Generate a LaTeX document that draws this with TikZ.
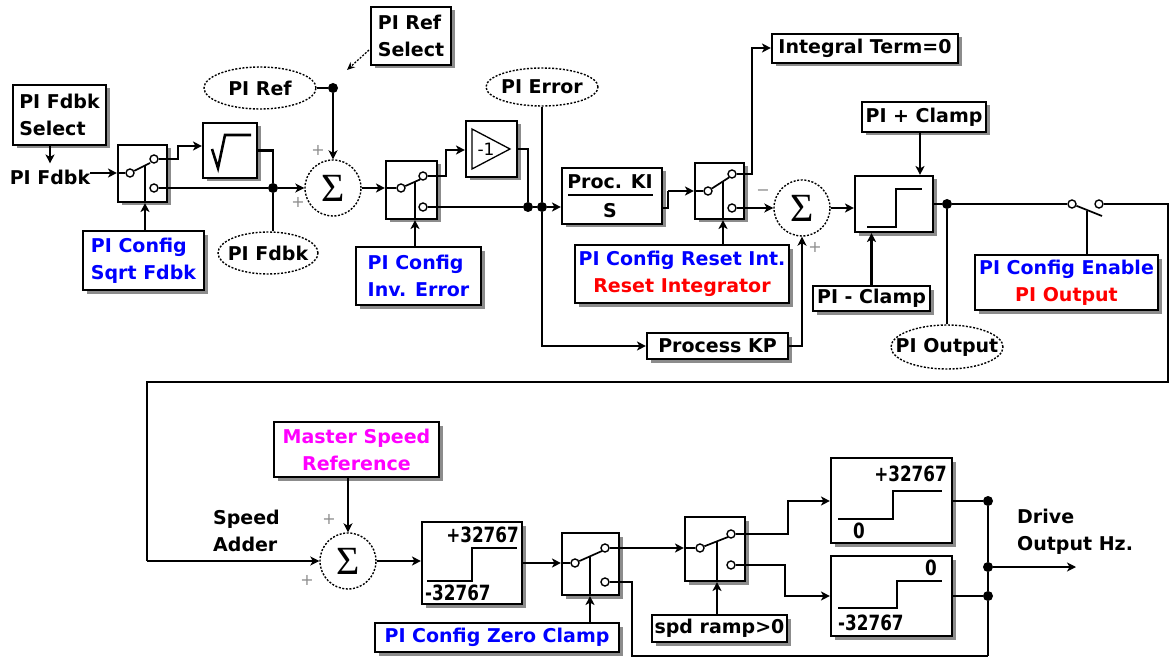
\documentclass[tikz,border=0pt]{standalone}
\usepackage{fontspec}
\setmainfont{DejaVu Sans}
\newfontfamily\sigmafont{Liberation Serif}
\usepackage{graphicx}
\usetikzlibrary{shadows,arrows.meta,shapes.geometric}
\definecolor{pblue}{RGB}{0,0,255}
\definecolor{pred}{RGB}{255,0,0}
\definecolor{pmag}{RGB}{255,0,255}
\tikzset{
  ln/.style={line width=2.1pt},
  arr/.style={line width=2.1pt,-{Stealth[length=9pt,width=9pt,inset=2.5pt]}},
  txt/.style={font=\fontsize{19}{27}\selectfont\bfseries,inner sep=0pt},
  corners/.style n args={4}{at={({(#1+#3)/2},{(#2+#4)/2})},minimum width={#3-#1},minimum height={#4-#2}},
  shbox/.style={draw,fill=white,line width=2.1pt,inner sep=0pt,
    drop shadow={shadow xshift=3.5pt,shadow yshift=-3.5pt,fill=black!45,opacity=1},
    font=\fontsize{19}{27}\selectfont\bfseries},
  oval/.style={draw,ellipse,dash pattern=on 2pt off 1.6pt,line width=1.4pt,fill=white,inner sep=0pt},
  sumc/.style={draw,circle,dash pattern=on 2pt off 1.6pt,line width=1.4pt,fill=white,inner sep=0pt,
    minimum size=56pt,font=\sigmafont\fontsize{40}{40}\selectfont},
  contact/.style={draw,circle,fill=white,line width=1.4pt,minimum size=8pt,inner sep=0pt},
  dot/.style={circle,fill=black,minimum size=10pt,inner sep=0pt},
  sign/.style={text=black!45,font=\fontsize{16}{16}\selectfont,inner sep=0pt},
  num/.style={font=\fontsize{21}{21}\selectfont\bfseries,inner sep=0pt},
  blade/.style={line width=1.7pt},
}
\begin{document}
\begin{tikzpicture}[x=1pt,y=-1pt]
\useasboundingbox (0,0) rectangle (1171,658);

% ---------------- boxes
\node[shbox,corners={13}{85}{106}{145},align=left] (fdbksel) {PI Fdbk\\Select};
\node[shbox,corners={371}{7}{451}{65},align=left] (refsel) {PI Ref\\Select};
\node[shbox,corners={118}{145}{167}{202}] (sw1) {};
\node[shbox,corners={203}{123}{257}{178}] (sqrt) {};
\node[shbox,corners={83}{231}{204}{290},align=left,text=pblue] (cfg1) {PI Config\\Sqrt Fdbk};
\node[shbox,corners={386}{161}{437}{219}] (sw2) {};
\node[shbox,corners={466}{121}{517}{177}] (neg) {};
\node[shbox,corners={356}{247}{481}{305},align=left,text=pblue] (cfg2) {PI Config\\Inv. Error};
\node[shbox,corners={562}{168}{662}{224}] (ki) {};
\node[shbox,corners={695}{163}{744}{219}] (sw3) {};
\node[shbox,corners={772}{34}{958}{63}] (intg) {Integral Term=0};
\node[shbox,corners={575}{245}{789}{303},align=center] (cfg3) {\textcolor{pblue}{PI Config Reset Int.}\\\textcolor{pred}{Reset Integrator}};
\node[shbox,corners={647}{333}{788}{359}] (kp) {Process KP};
\node[shbox,corners={855}{176}{933}{232}] (clamp) {};
\node[shbox,corners={862}{102}{986}{132}] (pclamp) {PI + Clamp};
\node[shbox,corners={813}{286}{930}{311}] (mclamp) {PI - Clamp};
\node[shbox,corners={975}{255}{1158}{310},align=center] (cfg4) {\textcolor{pblue}{PI Config Enable}\\\textcolor{pred}{PI Output}};
\node[shbox,corners={274}{422}{439}{477},align=center,text=pmag] (msr) {Master Speed\\Reference};
\node[shbox,corners={422}{522}{522}{604}] (lim1) {};
\node[shbox,corners={562}{533}{619}{595}] (sw4) {};
\node[shbox,corners={375}{623}{619}{652},text=pblue] (cfg5) {PI Config Zero Clamp};
\node[shbox,corners={685}{517}{745}{581}] (sw5) {};
\node[shbox,corners={652}{615}{787}{642}] (spd) {spd ramp>0};
\node[shbox,corners={831}{458}{952}{543}] (lim2) {};
\node[shbox,corners={831}{556}{952}{636}] (lim3) {};

% ---------------- ovals and sums
\node[oval,minimum width=112pt,minimum height=42pt,label={[txt]center:PI Ref}] (pref) at (260,88) {};
\node[oval,minimum width=100pt,minimum height=42pt,label={[txt]center:PI Fdbk}] (pfdbk) at (268,253) {};
\node[oval,minimum width=112pt,minimum height=38pt,label={[txt]center:PI Error}] (perr) at (542,87) {};
\node[oval,minimum width=112pt,minimum height=44pt,label={[txt]center:PI Output}] (pout) at (947,347) {};
\node[sumc] (sum1) at (333,188) {Σ};
\node[sumc] (sum2) at (802,208) {Σ};
\node[sumc] (sum3) at (348,561) {Σ};

% ---------------- free texts
\node[txt] (fdbktxt) at (50,177) {PI Fdbk};
\node[txt,anchor=west,align=left] (spdadd) at (213,531) {Speed\\Adder};
\node[txt,anchor=west,align=left] (drv) at (1017,532) {Drive\\Output Hz.};
\node[txt] (kinum) at (610,182) {Proc. KI};
\node[txt] (kiden) at (610,211) {S};
\draw[ln] (568,195) -- (653,195);
\draw[line width=1.3pt] (472,129) -- (510,149) -- (472,169) -- cycle;
\node[font=\fontsize{17}{17}\selectfont,inner sep=0pt] (negtxt) at (486,149) {-1};
\draw[line width=2.6pt] (212,149) -- (218,168) -- (225,135) -- (251,135);
\draw[ln] (867,227) -- (896,227) -- (896,189) -- (922,189);
\draw[ln] (427,581) -- (472,581) -- (472,548) -- (517,548);
\draw[ln] (838,519) -- (893,519) -- (893,491) -- (942,491);
\draw[ln] (838,608) -- (897,608) -- (897,581) -- (942,581);
\node[num,anchor=east] (l1hi) at (519,535) {\scalebox{0.8}[1]{+32767}};
\node[num,anchor=west] (l1lo) at (425,593) {\scalebox{0.8}[1]{-32767}};
\node[num,anchor=east] (l2hi) at (947,474) {\scalebox{0.8}[1]{+32767}};
\node[num,anchor=west] (l2lo) at (853,531) {\scalebox{0.8}[1]{0}};
\node[num,anchor=east] (l3hi) at (937,568) {\scalebox{0.8}[1]{0}};
\node[num,anchor=west] (l3lo) at (838,623) {\scalebox{0.8}[1]{-32767}};

% ---------------- signs
\node[sign] (p1a) at (318,150) {+};
\node[sign] (p1b) at (298,202) {+};
\node[sign] (m2a) at (763,193) {−};
\node[sign] (p2b) at (815,247) {+};
\node[sign] (p3a) at (329,519) {+};
\node[sign] (p3b) at (307,580) {+};

% ---------------- switch contacts
\node[contact] (s1i) at (130,173) {};
\node[contact] (s1u) at (154,159) {};
\node[contact] (s1l) at (154,188) {};
\coordinate (s1b) at (150,163);
\coordinate (s1c) at (145,165.5);
\node[contact] (s2i) at (401,188) {};
\node[contact] (s2u) at (423,176) {};
\node[contact] (s2l) at (423,207) {};
\coordinate (s2b) at (420,179.5);
\coordinate (s2c) at (415,181.7);
\node[contact] (s3i) at (708,191) {};
\node[contact] (s3u) at (732,174) {};
\node[contact] (s3l) at (732,208) {};
\coordinate (s3b) at (729,177.5);
\coordinate (s3c) at (723,181.4);
\node[contact] (s4i) at (575,563) {};
\node[contact] (s4u) at (605,548) {};
\node[contact] (s4l) at (605,582) {};
\coordinate (s4b) at (602,551);
\coordinate (s4c) at (590,556.3);
\node[contact] (s5i) at (700,548) {};
\node[contact] (s5u) at (731,534) {};
\node[contact] (s5l) at (731,565) {};
\coordinate (s5b) at (728,537);
\coordinate (s5c) at (717,541.3);
\node[contact] (en1) at (1072,204) {};
\node[contact] (en2) at (1099,204) {};
\coordinate (eb2) at (1102,216);
\coordinate (ec) at (1087,210.8);

% ---------------- dots
\node[dot] (j1) at (273,188) {};
\node[dot] (jr) at (333,88) {};
\node[dot] (j2) at (528,207) {};
\node[dot] (j3) at (542,207) {};
\node[dot] (j4) at (947,204) {};
\node[dot] (j5) at (988,501) {};
\node[dot] (j6) at (988,567) {};
\node[dot] (j7) at (988,596) {};

% ---------------- bend points
\coordinate (b1) at (178,146);
\coordinate (b2) at (446,150);
\coordinate (b3) at (542,346);
\coordinate (b4o) at (662,208);
\coordinate (b4) at (668,191);
\coordinate (b5) at (752,48);
\coordinate (b6) at (802,346);
\coordinate (L1) at (1168,204);
\coordinate (L2) at (1168,382);
\coordinate (L3) at (147,382);
\coordinate (L4) at (147,561);
\coordinate (b8) at (788,501);
\coordinate (b9) at (785,596);
\coordinate (b11) at (632,656);
\coordinate (bot) at (988,656);
\coordinate (outp) at (1076,567);
\coordinate (rs1) at (369,50);
\coordinate (rs2) at (347,70);

% ---------------- switch blades and controls
\foreach \s in {1,2,3,4,5}{\draw[blade] (s\s i) -- (s\s b);}
\draw[blade] (en1) -- (eb2);
\draw[arr] (s1c |- cfg1.north) -- (s1c |- sw1.south);
\draw[ln] (s1c |- sw1.south) -- (s1c);
\draw[arr] (s2c |- cfg2.north) -- (s2c |- sw2.south);
\draw[ln] (s2c |- sw2.south) -- (s2c);
\draw[arr] (s3c |- cfg3.north) -- (s3c |- sw3.south);
\draw[ln] (s3c |- sw3.south) -- (s3c);
\draw[arr] (s4c |- cfg5.north) -- (s4c |- sw4.south);
\draw[ln] (s4c |- sw4.south) -- (s4c);
\draw[arr] (s5c |- spd.north) -- (s5c |- sw5.south);
\draw[ln] (s5c |- sw5.south) -- (s5c);
\draw[ln] (ec |- cfg4.north) -- (ec);

% ---------------- connectors
\draw[arr] (fdbktxt.north |- fdbksel.south) -- ([yshift=6pt]fdbktxt.north);
\draw[arr] ([yshift=4pt]fdbktxt.east) -- (s1i -| sw1.west);
\draw[ln] (s1i -| sw1.west) -- (s1i);
\draw[arr] (s1u) -| (b1) -- (b1 -| sqrt.west);
\draw[ln] (sqrt.east) -| (j1);
\draw[ln] (s1l) -- (j1);
\draw[arr] (j1) -- (sum1.west);
\draw[ln] (j1) -- (j1 |- pfdbk.north);
\draw[ln] (pref.east) -- (jr);
\draw[arr] (jr) -- (sum1.north);
\draw[line width=1.3pt,dash pattern=on 2pt off 1.5pt,-{Stealth[length=8pt,width=7pt]}] (rs1) -- (rs2);
\draw[arr] (sum1.east) -- (s2i -| sw2.west);
\draw[ln] (s2i -| sw2.west) -- (s2i);
\draw[arr] (s2u) -| (b2) -- (b2 -| neg.west);
\draw[ln] (neg.east) -| (j2);
\draw[ln] (s2l) -- (j2) -- (j3);
\draw[arr] (j3) -- (j3 -| ki.west);
\draw[ln] (perr.south) -- (j3);
\draw[arr] (j3) -- (b3) -- (b3 -| kp.west);
\draw[ln] (b4o) -| (b4);
\draw[arr] (b4) -- (b4 -| sw3.west);
\draw[ln] (b4 -| sw3.west) -- (s3i);
\draw[arr] (s3u) -| (b5) -- (b5 -| intg.west);
\draw[arr] (s3l) -- (sum2.west);
\draw[arr] (kp.east) -- (b6) -- (sum2.south);
\draw[arr] (sum2.east) -- (sum2.east -| clamp.west);
\draw[arr] ([xshift=-4pt]pclamp.south) -- ([xshift=-4pt]pclamp.south |- clamp.north);
\draw[arr] (mclamp.north) -- (mclamp.north |- clamp.south);
\draw[ln] (clamp.east |- j4) -- (j4) -- (en1);
\draw[ln] (j4) -- (j4 |- pout.north);
\draw[ln] (en2) -- (L1) -- (L2) -- (L3) -- (L4);
\draw[arr] (L4) -- (sum3.west);
\draw[arr] (sum3.north |- msr.south) -- (sum3.north);
\draw[arr] (sum3.east) -- (sum3.east -| lim1.west);
\draw[arr] (lim1.east |- s4i) -- (s4i -| sw4.west);
\draw[ln] (s4i -| sw4.west) -- (s4i);
\draw[arr] (s4u) -- (s4u -| sw5.west);
\draw[ln] (s4u -| sw5.west) -- (s5i);
\draw[arr] (s5u) -| (b8) -- (b8 -| lim2.west);
\draw[arr] (s5l) -| (b9) -- (b9 -| lim3.west);
\draw[ln] (lim2.east |- j5) -- (j5);
\draw[ln] (lim3.east |- j7) -- (j7);
\draw[ln] (j5) -- (j6) -- (j7) -- (bot);
\draw[arr] (j6) -- (outp);
\draw[ln] (s4l) -| (b11) -- (bot);
\end{tikzpicture}
\end{document}
